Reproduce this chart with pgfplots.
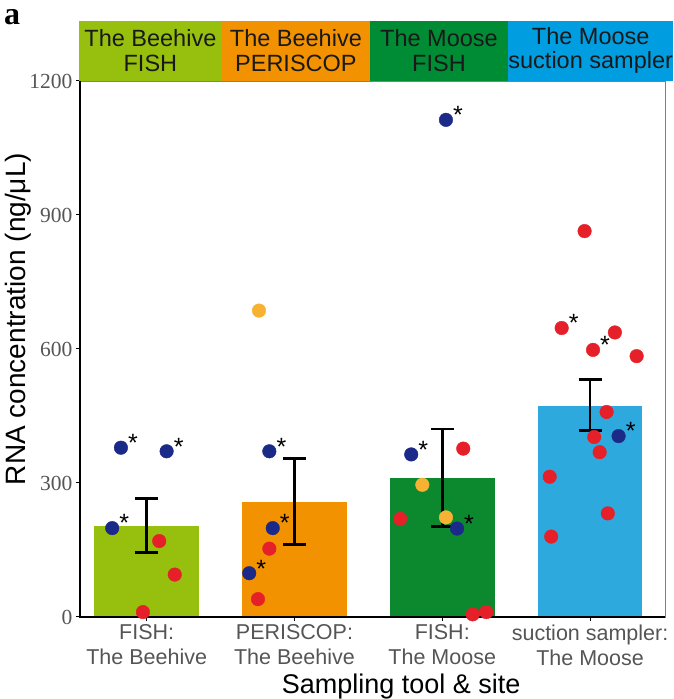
\documentclass[border=0pt]{standalone}
\usepackage{fontspec}
\setmainfont{Liberation Sans}
\newfontfamily\serifnum{Liberation Serif}
\usepackage{pgfplots}
\pgfplotsset{compat=1.18}
\definecolor{cGreen}{RGB}{151,191,13}
\definecolor{cOrange}{RGB}{243,146,0}
\definecolor{cDGreen}{RGB}{12,136,46}
\definecolor{cBlue}{RGB}{46,169,222}
\definecolor{hBlue}{RGB}{0,158,224}
\definecolor{hDGreen}{RGB}{0,140,52}
\definecolor{dRed}{RGB}{230,32,40}
\definecolor{dNavy}{RGB}{27,42,136}
\definecolor{dYellow}{RGB}{247,178,51}
\definecolor{tickgray}{RGB}{85,85,85}
\begin{document}
\begin{tikzpicture}
\useasboundingbox (0,0) rectangle (674pt,699pt);
\begin{axis}[
  at={(80pt,82pt)}, anchor=south west,
  scale only axis, width=585pt, height=536pt,
  xmin=-0.451, xmax=3.507, ymin=0, ymax=1200,
  ytick={0,300,600,900,1200}, yticklabels={0,300,600,900,1200},
  xtick={0,1,2,3},
  xticklabels={{FISH:\\The Beehive},{PERISCOP:\\The Beehive},{FISH:\\The Moose},{suction sampler:\\The Moose}},
  xticklabel style={align=center, font=\fontsize{21.5}{25}\selectfont, text=tickgray},
  yticklabel style={font=\serifnum\fontsize{21.5}{25}\selectfont, text=tickgray},
  tick align=outside, xtick pos=bottom, ytick pos=left,
  major tick length=4pt, tick style={black, line width=1pt},
  axis line style={gray, line width=0.8pt},
  xlabel={Sampling tool \& site}, ylabel={RNA concentration (ng/μL)},
  xlabel style={font=\fontsize{27}{30}\selectfont, at={(axis description cs:0.549,0)}, anchor=base, yshift=-76pt},
  ylabel style={font=\fontsize{28}{30}\selectfont, at={(axis description cs:-0.106,0.556)}, anchor=center},
  clip=false,
]
\addplot[ybar, bar shift=0pt, bar width=104.7pt, fill=cGreen, draw=none] coordinates {(0,203)};
\addplot[ybar, bar shift=0pt, bar width=104.7pt, fill=cOrange, draw=none] coordinates {(1,257)};
\addplot[ybar, bar shift=0pt, bar width=104.7pt, fill=cDGreen, draw=none] coordinates {(2,311)};
\addplot[ybar, bar shift=0pt, bar width=104.7pt, fill=cBlue, draw=none] coordinates {(3,473)};
\addplot[draw=none, mark=none,
  error bars/.cd, y dir=both, y explicit,
  error bar style={draw=black, solid, line width=2.7pt},
  error mark options={rotate=90, mark size=11.5pt, line width=2.7pt, draw=black}]
  coordinates {(0,203) += (0,62) -= (0,59)
               (1,257) += (0,98) -= (0,95)
               (2,311) += (0,110) -= (0,109)
               (3,473) += (0,58) -= (0,56)};
\addplot[only marks, mark=*, mark size=6.8pt, dRed, mark options={fill=dRed, draw=dRed}] coordinates {
  (0.085,170) (0.19,95) (-0.025,11)
  (0.83,153) (0.753,40)
  (2.142,377) (1.716,220) (2.206,6) (2.298,11)
  (2.963,864) (3.168,637) (3.315,584) (3.112,459) (3.028,403) (3.065,369) (2.727,314) (3.12,232) (2.737,180)};
\addplot[only marks, mark=*, mark size=6.8pt, dYellow, mark options={fill=dYellow, draw=dYellow}] coordinates {
  (0.76,686) (1.865,296) (2.025,223)};
\addplot[only marks, mark=*, mark size=6.8pt, dRed, mark options={fill=dRed, draw=dRed},
  nodes near coords={*},
  every node near coord/.append style={anchor=base west, xshift=7pt, yshift=-3.8pt, text=black, inner sep=0pt, font=\fontsize{25}{25}\selectfont}] coordinates {
  (2.808,647) (3.02,598)};
\addplot[only marks, mark=*, mark size=6.8pt, dNavy, mark options={fill=dNavy, draw=dNavy},
  nodes near coords={*},
  every node near coord/.append style={anchor=base west, xshift=7pt, yshift=-3.8pt, text=black, inner sep=0pt, font=\fontsize{25}{25}\selectfont}] coordinates {
  (-0.174,379) (0.135,371) (-0.233,199)
  (0.83,371) (0.853,199) (0.694,98)
  (2.025,1113) (1.79,364) (2.1,198)
  (3.193,405)};
\draw[black, line width=2.5pt] (rel axis cs:0,1) -- (rel axis cs:0,0) -- (rel axis cs:1,0);
\end{axis}
% header strips
\fill[cGreen] (79pt,618pt) rectangle (221.7pt,678.3pt);
\fill[cOrange] (221.7pt,618pt) rectangle (370pt,678.3pt);
\fill[hDGreen] (370pt,618pt) rectangle (508.3pt,678.3pt);
\fill[hBlue] (508.3pt,618pt) rectangle (673pt,678.3pt);
\begin{scope}[every node/.style={align=center, text=black!90, font=\fontsize{23.5}{24.5}\selectfont, inner sep=0pt}]
\node at (150.4pt,648.5pt) {The Beehive\\FISH};
\node at (295.9pt,648.5pt) {The Beehive\\PERISCOP};
\node at (439pt,648.5pt) {The Moose\\FISH};
\node at (590.7pt,648.5pt) {The Moose\\suction sampler};
\end{scope}
\node[anchor=base west, inner sep=0pt, font=\serifnum\bfseries\fontsize{32}{32}\selectfont] at (4pt,674pt) {a};
\end{tikzpicture}
\end{document}
